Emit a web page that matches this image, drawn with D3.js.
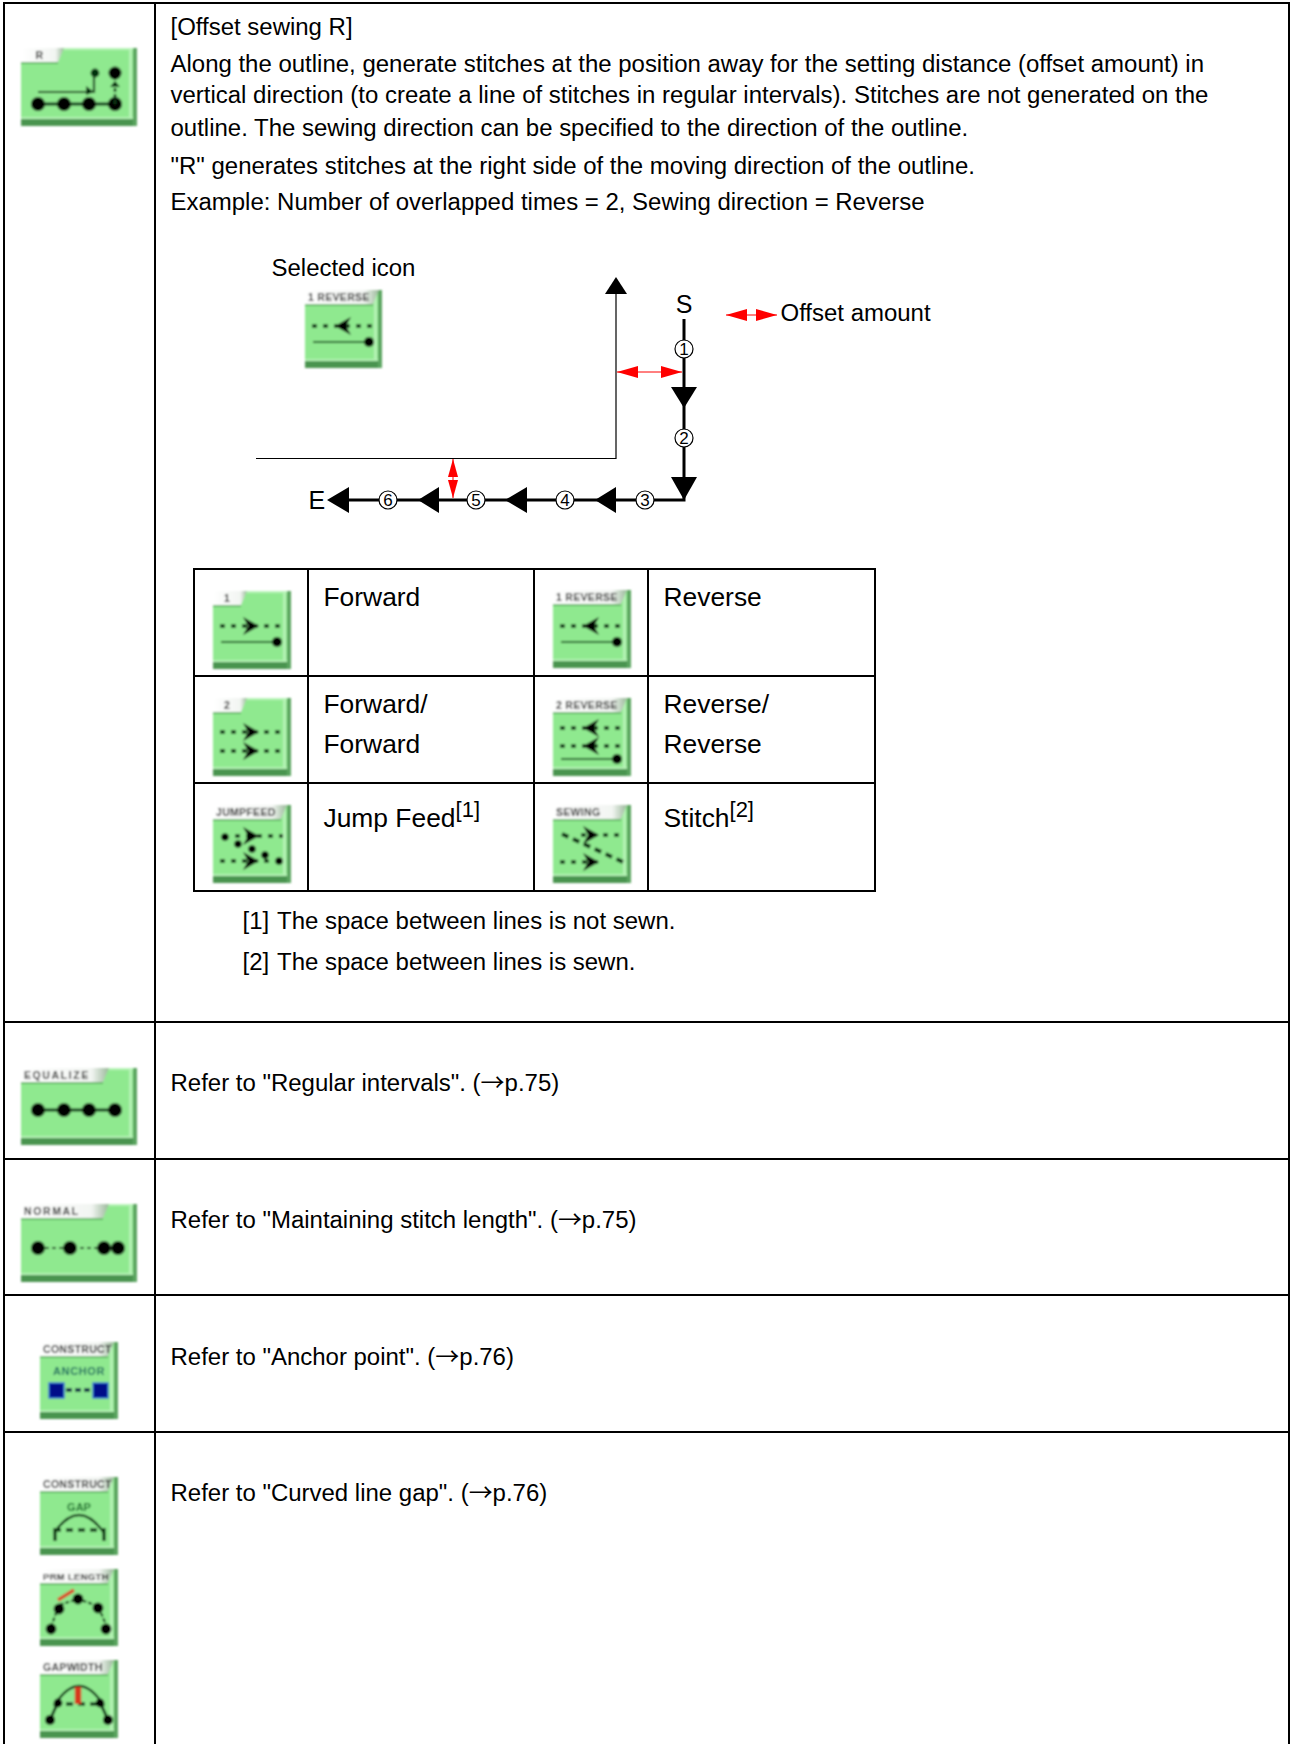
<!DOCTYPE html>
<html>
<head>
<meta charset="utf-8">
<title>Offset sewing R</title>
<script src="https://cdn.jsdelivr.net/npm/d3@7"></script>
<style>
html, body { margin: 0; background: #fff; }
text { font-family: "Liberation Sans", Arial, sans-serif; font-size: 23.97px; fill: #000; }
</style>
</head>
<body>
<svg id="page" width="1296" height="1744"></svg>
<script>
const introLines = [
    '[Offset sewing R]',
    'Along the outline, generate stitches at the position away for the setting distance (offset amount) in',
    'vertical direction (to create a line of stitches in regular intervals). Stitches are not generated on the',
    'outline. The sewing direction can be specified to the direction of the outline.',
    '"R" generates stitches at the right side of the moving direction of the outline.',
    'Example: Number of overlapped times = 2, Sewing direction = Reverse'
];
const referLines = [
    ['Refer to "Regular intervals". (', 'p.75)'],
    ['Refer to "Maintaining stitch length". (', 'p.75)'],
    ['Refer to "Anchor point". (', 'p.76)'],
    ['Refer to "Curved line gap". (', 'p.76)']
];
const directionLeft = [['Forward'], ['Forward/', 'Forward'], ['Jump Feed']];
const directionRight = [['Reverse'], ['Reverse/', 'Reverse'], ['Stitch']];
const directionNotes = ['', '', '[1]'];
const directionNotesRight = ['', '', '[2]'];
const footnoteMarks = ['[1]', '[2]'];
const footnotes = ['The space between lines is not sewn.', 'The space between lines is sewn.'];
const stepNumbers = ['1', '2', '3', '4', '5', '6'];
const leftIconLabels = ['1', '2', 'JUMPFEED'];
const rightIconLabels = ['1 REVERSE', '2 REVERSE', 'SEWING'];

const svg = d3.select('#page');
const defs = svg.append('defs');
defs.append('filter').attr('id', 'soft')
    .attr('x', '-5%').attr('y', '-5%').attr('width', '110%').attr('height', '110%')
    .append('feGaussianBlur').attr('stdDeviation', 0.85);
const grad = defs.append('linearGradient').attr('id', 'tabFill').attr('x1', 0).attr('x2', 1);
grad.append('stop').attr('offset', 0).attr('stop-color', '#ffffff');
grad.append('stop').attr('offset', 0.8).attr('stop-color', '#f2f5f2');
grad.append('stop').attr('offset', 1).attr('stop-color', '#9ab89a');

function rule(x1, y1, x2, y2, w) {
    svg.append('line').attr('x1', x1).attr('y1', y1).attr('x2', x2).attr('y2', y2)
        .attr('stroke', '#000').attr('stroke-width', w || 2);
}

function label(str, x, y, size) {
    const t = svg.append('text').attr('x', x).attr('y', y).text(str);
    if (size) t.style('font-size', size + 'px');
    return t;
}

const path = d3.line();

function triangle(parent, pts, fill) {
    parent.append('path').attr('d', path(pts) + 'Z').attr('fill', fill || '#000');
}

// icon drawing, glyphs are drawn in a 0-78 (or 0-116) box and moved in with the group
function stroke(g, pts, w, color, dash) {
    g.append('path').attr('d', path(pts)).attr('fill', 'none')
        .attr('stroke', color || '#0a3a12').attr('stroke-width', w || 1.5)
        .attr('stroke-dasharray', dash || null);
}
function dot(g, x, y, r, color) {
    g.append('circle').attr('cx', x).attr('cy', y).attr('r', r).attr('fill', color || '#000');
}
function dashRow(g, y, dir, x0, x1, cx) {
    stroke(g, [[x0 || 7, y], [x1 || 70, y]], 3.4, '#052a0b', '5 6');
    const c = cx || 38;
    if (dir > 0) triangle(g, [[c - 8, y - 9], [c + 8, y], [c - 8, y + 9], [c - 3, y]], '#000');
    else triangle(g, [[c + 8, y - 9], [c - 8, y], [c + 8, y + 9], [c + 3, y]], '#000');
}
function feedLine(g, y) {
    stroke(g, [[8, y], [62, y]], 2.2, '#145a20');
    dot(g, 64, y, 5);
}
function bigDots(g, xs, y) {
    stroke(g, [[xs[0], y], [xs[xs.length - 1], y]], 3, '#0a3a12');
    xs.forEach(x => dot(g, x, y, 7));
}

const glyphs = {
    offsetR(g) {
        stroke(g, [[17, 44], [73, 44], [73, 22]], 2.2);
        triangle(g, [[65, 47], [73, 44], [65, 38]], '#063010');
        dot(g, 74, 25, 4.4, '#063010');
        bigDots(g, [17, 43, 68, 94], 56);
        stroke(g, [[94, 56], [94, 24]], 2.6, '#0a3a12', '4 2');
        dot(g, 94, 25, 6.5);
        triangle(g, [[89, 39], [99, 39], [94, 33]], '#063010');
    },
    equalize(g) { bigDots(g, [17, 43, 68, 94], 42); },
    normal(g) {
        stroke(g, [[17, 44], [97, 44]], 1.8, '#0a3a12', '4 3');
        [17, 49, 83, 97].forEach(x => dot(g, x, 44, 7));
    },
    forward(g) { dashRow(g, 35, 1); feedLine(g, 51); },
    reverse(g) { dashRow(g, 36, -1); feedLine(g, 52); },
    forward2(g) { dashRow(g, 34, 1); dashRow(g, 53, 1); },
    reverse2(g) { dashRow(g, 30, -1); dashRow(g, 48, -1); feedLine(g, 61); },
    jump(g) {
        dashRow(g, 31, 1, 22, 70); dashRow(g, 56, 1, 7, 58);
        [[12, 32], [25, 39], [39, 44], [52, 50], [66, 56]].forEach(p => dot(g, p[0], p[1], 3.8));
    },
    sewing(g) {
        dashRow(g, 30, 1, 28, 70); dashRow(g, 57, 1, 7, 50);
        stroke(g, [[9, 29], [70, 57]], 4, '#042a0c', '7 5');
    },
    anchor(g) {
        g.append('text').attr('x', 39).attr('y', 33).attr('text-anchor', 'middle')
            .style('font-size', '11px').style('font-weight', 'bold').style('fill', '#176a5e').style('letter-spacing', '0.6px').text('ANCHOR');
        stroke(g, [[26, 48], [52, 48]], 3.4, '#001a40', '6 3');
        [[9, 41], [53, 41]].forEach(p => {
            g.append('rect').attr('x', p[0]).attr('y', p[1]).attr('width', 15).attr('height', 15)
                .attr('fill', '#000a88').attr('stroke', '#2c6cd8').attr('stroke-width', 1.4);
        });
    },
    gap(g) {
        g.append('text').attr('x', 39).attr('y', 34).attr('text-anchor', 'middle')
            .style('font-size', '11px').style('font-weight', 'bold').style('fill', '#0c6a24').text('GAP');
        g.append('path').attr('d', 'M14,56 Q39,20 64,56').attr('fill', 'none').attr('stroke', '#0a3a12').attr('stroke-width', 2.4);
        stroke(g, [[14, 53], [64, 53]], 3.4, '#0a3a12', '7 5');
        stroke(g, [[15, 51], [15, 64]], 3.4);
        stroke(g, [[64, 51], [64, 64]], 3.4);
    },
    prm(g) {
        stroke(g, [[11, 58], [19, 36], [38, 30], [58, 37], [67, 58]], 2.2, '#0a3a12', '4 2');
        [[11, 60], [19, 40], [38, 30], [58, 39], [66, 60]].forEach(p => dot(g, p[0], p[1], 5.4));
        stroke(g, [[18, 31], [34, 21]], 3.6, '#d84a2a');
    },
    gapwidth(g) {
        g.append('path').attr('d', 'M14,46 Q39,6 64,46').attr('fill', 'none').attr('stroke', '#0a3a12').attr('stroke-width', 2.4);
        stroke(g, [[14, 44], [64, 44]], 3.4, '#0a3a12', '7 5');
        stroke(g, [[10, 60], [18, 42]], 3);
        stroke(g, [[68, 60], [60, 42]], 3);
        dot(g, 10, 60, 5); dot(g, 68, 60, 5);
        dot(g, 18, 43, 4.4); dot(g, 60, 43, 4.4);
        stroke(g, [[38, 27], [38, 44]], 6.5, '#d6381c');
    }
};

function drawIcon(x, y, w, h, text, tabW, glyph) {
    const g = svg.append('g').attr('transform', `translate(${x},${y})`).attr('filter', 'url(#soft)');
    g.append('rect').attr('width', w).attr('height', h).attr('fill', '#8fe98f');
    // bevel
    g.append('rect').attr('y', h - 7).attr('width', w).attr('height', 7).attr('fill', '#4a9450');
    g.append('rect').attr('x', w - 4).attr('width', 4).attr('height', h).attr('fill', '#5aa45f');
    g.append('rect').attr('width', w - 4).attr('height', 2).attr('fill', '#b8f4b8');
    g.append('rect').attr('y', h - 9).attr('width', w - 4).attr('height', 2).attr('fill', '#b4f2b4');
    g.append('rect').attr('x', w - 8).attr('y', 2).attr('width', 3).attr('height', h - 10).attr('fill', '#b4f2b4');
    // tab
    g.append('path').attr('d', path([[0, 0], [tabW + 6, 0], [tabW, 14], [0, 14]]) + 'Z').attr('fill', 'url(#tabFill)');
    g.append('line').attr('x1', 0).attr('x2', tabW).attr('y1', 15).attr('y2', 15).attr('stroke', '#3f8a45').attr('stroke-width', 1);
    g.append('text').attr('x', tabW >= 60 ? 3 : tabW / 2).attr('y', 11)
        .attr('text-anchor', tabW >= 60 ? 'start' : 'middle')
        .style('font-size', text.length > 9 ? '9.5px' : '10.5px').style('font-weight', 'bold').style('fill', '#222')
        .style('letter-spacing', tabW >= 80 ? '1.6px' : '0.3px').text(text);
    glyphs[glyph](g);
}

// outer table
const outerLeft = 4, outerCol = 155, outerRight = 1289, outerTop = 3;
const rowLines = [1022, 1159, 1295, 1432];
rule(outerLeft - 1, outerTop, outerRight + 1, outerTop);
rule(outerLeft, outerTop, outerLeft, 1744);
rule(outerCol, outerTop, outerCol, 1744);
rule(outerRight, outerTop, outerRight, 1744);
rowLines.forEach(y => rule(outerLeft, y, outerRight, y));

// intro
const textX = 170.5;
const introY = [35, 72, 103, 135.5, 174, 210];
introLines.forEach((s, i) => label(s, textX, introY[i]));

// refer rows
const referY = [1091, 1228, 1365, 1501];
referLines.forEach((s, i) => {
    const t = label(s[0], textX, referY[i]);
    t.append('tspan').style('font-family', '"Noto Sans CJK JP"').text('→');
    t.append('tspan').text(s[1]);
});

// icons of the left column
drawIcon(21, 48, 116, 78, 'R', 37, 'offsetR');
drawIcon(21, 1068, 116, 77, 'EQUALIZE', 82, 'equalize');
drawIcon(21, 1204, 116, 78, 'NORMAL', 82, 'normal');
drawIcon(40, 1342, 78, 77, 'CONSTRUCT', 68, 'anchor');
drawIcon(40, 1477, 78, 78, 'CONSTRUCT', 68, 'gap');
drawIcon(40, 1569, 78, 77, 'PRM LENGTH', 68, 'prm');
drawIcon(40, 1660, 78, 78, 'GAPWIDTH', 68, 'gapwidth');

// diagram
label('Selected icon', 271.5, 276);
drawIcon(305, 290, 77, 78, '1 REVERSE', 68, 'reverse');

const thin = svg.append('path').attr('fill', 'none').attr('stroke', '#000').attr('stroke-width', 1.2);
thin.attr('d', path([[256, 458.5], [616, 458.5], [616, 290]]));
triangle(svg, [[605, 294], [616, 277], [627, 294]]);

const thick = svg.append('path').attr('fill', 'none').attr('stroke', '#000').attr('stroke-width', 3);
thick.attr('d', path([[684, 319], [684, 500], [340, 500]]));

[[387, 408], [477, 500]].forEach(a => triangle(svg, [[671, a[0]], [697, a[0]], [684, a[1]]]));
[[327, 349], [418, 439], [505, 527], [595, 616]].forEach(a => triangle(svg, [[a[1], 487], [a[1], 513], [a[0], 500]]));

const stepPos = [[684, 349], [684, 438], [645, 500], [565, 500], [476, 500], [388, 500]];
stepNumbers.forEach((n, i) => {
    svg.append('circle').attr('cx', stepPos[i][0]).attr('cy', stepPos[i][1]).attr('r', 9)
        .attr('fill', '#fff').attr('stroke', '#000').attr('stroke-width', 1.2);
    label(n, stepPos[i][0], stepPos[i][1] + 6.2, 17).attr('text-anchor', 'middle');
});
label('S', 684, 313, 25).attr('text-anchor', 'middle');
label('E', 308.5, 509, 25);

function redH(x1, x2, y) {
    svg.append('line').attr('x1', x1).attr('x2', x2).attr('y1', y).attr('y2', y).attr('stroke', '#f00').attr('stroke-width', 1);
    triangle(svg, [[x1, y], [x1 + 21, y - 6], [x1 + 21, y + 6]], '#f00');
    triangle(svg, [[x2, y], [x2 - 21, y - 6], [x2 - 21, y + 6]], '#f00');
}
function redV(x, y1, y2) {
    svg.append('line').attr('x1', x).attr('x2', x).attr('y1', y1).attr('y2', y2).attr('stroke', '#f00').attr('stroke-width', 1);
    triangle(svg, [[x, y1], [x - 5, y1 + 18], [x + 5, y1 + 18]], '#f00');
    triangle(svg, [[x, y2], [x - 5, y2 - 18], [x + 5, y2 - 18]], '#f00');
}
redH(617, 682, 372);
redV(453, 459, 498);
redH(726, 777, 315);
label('Offset amount', 780.5, 321);

// inner table
const innerCols = [194, 308, 534, 648, 875];
const innerRows = [569, 676, 783, 891];
innerCols.forEach(x => rule(x, innerRows[0] - 1, x, innerRows[3] + 1));
innerRows.forEach(y => rule(innerCols[0], y, innerCols[4], y));

const iconRowsLeft = [591, 698, 805];
const iconRowsRight = [590, 698, 805];
const leftGlyphs = ['forward', 'forward2', 'jump'];
const rightGlyphs = ['reverse', 'reverse2', 'sewing'];
leftIconLabels.forEach((s, i) => drawIcon(213, iconRowsLeft[i], 78, 78, s, i < 2 ? 28 : 68, leftGlyphs[i]));
rightIconLabels.forEach((s, i) => drawIcon(553, iconRowsRight[i], 78, 78, s, 68, rightGlyphs[i]));

const cellY = [[606], [713, 753], [827]];
function cellText(lines, notes, x) {
    lines.forEach((ls, i) => {
        ls.forEach((s, j) => {
            const t = label(s, x, cellY[i][j], 26.4);
            if (notes[i]) {
                t.append('tspan').attr('dy', -10).style('font-size', '22px').text(notes[i]);
            }
        });
    });
}
cellText(directionLeft, directionNotes, 323.5);
cellText(directionRight, directionNotesRight, 663.5);

const noteY = [929, 970];
footnoteMarks.forEach((s, i) => label(s, 242.5, noteY[i]));
footnotes.forEach((s, i) => label(s, 277, noteY[i]));
</script>
</body>
</html>
